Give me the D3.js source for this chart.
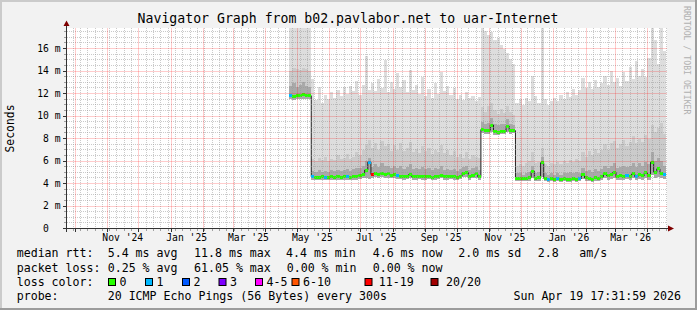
<!DOCTYPE html>
<html>
<head>
<meta charset="utf-8">
<script src="https://cdn.jsdelivr.net/npm/d3@7"></script>
<style>
    body { margin: 0; background: #f2f2f2; }
    svg text { font-family: "DejaVu Sans Mono", monospace; white-space: pre; }
</style>
</head>
<body>
<script>
let width = 697;
let height = 310;

const title = 'Navigator Graph from b02.pavlabor.net to uar-Internet';
const graphEnd = new Date(Date.UTC(2026, 3, 19, 17, 31, 59));
const graphDays = 573;
const firstBin = new Date(Date.UTC(2025, 3, 24));
const binDays = 3;
const yMax = 17.78;
const yTicks = [0, 2, 4, 6, 8, 10, 12, 14, 16];

// median rtt per 3 day bin (ms)
const median = [
    11.8, 11.7, 11.8, 11.8, 11.9, 11.8, 11.8,
    4.6, 4.55, 4.55, 4.6, 4.55, 4.55, 4.6, 4.55, 4.6, 4.55, 4.6, 4.6, 4.55, 4.6, 4.65, 4.7,
    4.8, 5.2, 5.9,
    4.8, 4.85, 4.8, 4.9, 4.8, 4.85, 4.75, 4.8,
    4.7, 4.65, 4.6, 4.65, 4.8, 4.6, 4.6, 4.65, 4.6, 4.6, 4.65, 4.55, 4.6, 4.65, 4.75, 4.6, 4.6, 4.65, 4.6, 4.55, 4.65, 4.9, 5.0, 4.6, 4.75, 4.85, 4.6,
    8.8, 8.7, 8.7, 9.2, 8.6, 8.5, 8.6, 8.6, 9.1, 8.7, 8.7,
    4.45, 4.45, 4.45, 4.45, 4.5, 5.1, 4.45, 4.5, 5.85, 4.45, 4.4, 4.45, 4.4, 4.45, 4.4, 4.45, 4.4, 4.4, 4.45, 4.4, 4.45,
    4.8, 4.5, 4.45, 4.4, 4.5, 4.45, 4.6, 4.9, 4.7, 4.8, 5.0, 4.6, 4.7, 4.6, 4.75, 4.6, 4.85, 4.6, 4.8, 4.7, 4.95, 4.7, 5.9, 5.0, 5.3, 4.9, 4.8
];

// smoke: lowest ping, inner bands and highest ping per bin (ms)
const minPing = [
    11.5, 11.45, 11.5, 11.5, 11.55, 11.5, 11.5,
    4.3, 4.3, 4.3, 4.35, 4.3, 4.3, 4.3, 4.3, 4.35, 4.3, 4.3, 4.35, 4.3, 4.35, 4.35, 4.4,
    4.45, 4.5, 4.4,
    4.5, 4.55, 4.5, 4.55, 4.5, 4.5, 4.45, 4.5,
    4.4, 4.4, 4.35, 4.4, 4.45, 4.35, 4.35, 4.4, 4.35, 4.35, 4.4, 4.3, 4.35, 4.4, 4.45, 4.35, 4.35, 4.4, 4.35, 4.3, 4.4, 4.55, 4.6, 4.35, 4.45, 4.5, 4.35,
    8.5, 8.4, 8.4, 8.6, 8.3, 8.3, 8.4, 8.4, 8.6, 8.4, 8.5,
    4.2, 4.2, 4.2, 4.2, 4.25, 4.5, 4.2, 4.25, 4.6, 4.2, 4.15, 4.2, 4.15, 4.2, 4.15, 4.2, 4.15, 4.15, 4.2, 4.15, 4.2,
    4.4, 4.25, 4.2, 4.15, 4.25, 4.2, 4.3, 4.45, 4.35, 4.4, 4.5, 4.3, 4.35, 4.3, 4.4, 4.3, 4.45, 4.3, 4.4, 4.35, 4.5, 4.35, 4.8, 4.5, 4.6, 4.45, 4.4
];
const lowBand = [
    12.7, 12.9, 12.6, 12.8, 13.0, 12.7, 12.6,
    5.1, 5.0, 5.2, 5.0, 5.1, 5.0, 5.2, 5.1, 5.2, 5.1, 5.2, 5.3, 5.1, 5.3, 5.4, 5.4,
    5.6, 6.0, 6.3,
    5.5, 5.7, 5.5, 5.8, 5.6, 5.6, 5.4, 5.6,
    5.4, 5.6, 5.3, 5.5, 5.7, 5.3, 5.4, 5.3, 5.5, 5.3, 5.4, 5.2, 5.4, 5.3, 5.6, 5.2, 5.3, 5.2, 5.3, 5.1, 5.3, 5.5, 5.6, 5.2, 5.4, 5.5, 5.2,
    9.5, 9.3, 9.4, 9.8, 9.3, 9.2, 9.3, 9.3, 9.7, 9.3, 9.2,
    4.9, 4.9, 4.8, 4.9, 5.0, 5.6, 4.9, 5.0, 6.4, 4.9, 4.8, 4.9, 4.8, 4.9, 4.8, 4.9, 4.9, 5.0, 4.9, 5.0, 4.9,
    5.4, 5.1, 5.2, 5.0, 5.3, 5.1, 5.3, 5.6, 5.4, 5.6, 5.8, 5.4, 5.5, 5.6, 5.5, 5.6, 5.8, 5.5, 5.8, 5.6, 5.9, 5.7, 6.8, 6.0, 6.3, 6.0, 5.6
];
const midBand = [
    14.0, 14.3, 14.2, 14.1, 14.3, 14.2, 14.0,
    6.2, 6.0, 6.3, 6.1, 6.4, 6.0, 6.2, 6.1, 6.5, 6.2, 6.3, 6.6, 6.2, 6.4, 6.8, 6.5,
    7.0, 7.4, 7.9,
    7.2, 7.6, 7.0, 7.8, 7.3, 7.5, 6.9, 7.4,
    7.0, 7.6, 6.9, 7.2, 7.7, 6.8, 7.1, 6.7, 7.3, 6.9, 7.2, 6.6, 7.0, 6.8, 7.4, 6.7, 7.0, 6.5, 6.9, 6.4, 6.6, 6.3, 6.8, 6.2, 6.5, 6.4, 6.3,
    10.8, 10.4, 10.9, 11.2, 10.5, 10.2, 10.6, 10.3, 10.9, 10.4, 10.1,
    5.6, 5.7, 5.6, 5.8, 6.0, 6.8, 5.8, 5.9, 7.2, 5.7, 5.6, 5.8, 5.7, 5.9, 5.7, 6.0, 5.8, 6.1, 5.9, 6.2, 6.0,
    6.8, 6.4, 6.9, 6.5, 7.1, 6.7, 7.0, 7.5, 7.0, 7.6, 7.8, 7.2, 7.5, 7.9, 7.3, 7.7, 8.2, 7.6, 8.0, 7.7, 8.3, 8.0, 9.2, 8.6, 8.9, 9.4, 8.4
];
const maxPing = [
    17.9, 17.9, 17.9, 17.9, 17.9, 17.9, 17.9,
    13.3, 11.4, 12.6, 11.2, 11.9, 11.5, 12.1, 11.6, 12.3, 11.8, 12.6, 12.0, 12.7, 12.2, 13.1, 11.9,
    12.8, 15.3, 12.3,
    12.9, 12.2, 13.3, 12.5, 15.0, 12.1, 13.0, 12.4,
    13.8, 12.6, 13.2, 12.1, 14.1, 12.3, 12.8, 12.0, 13.5, 11.8, 12.4, 11.6, 12.9, 12.0, 13.9, 12.2, 12.7, 11.9, 12.5, 11.5, 11.9, 11.4, 12.1, 11.6, 11.8, 11.3, 11.7,
    17.9, 17.6, 17.2, 17.5, 16.8, 16.9, 16.3, 16.0, 15.6, 15.1, 14.6,
    11.2, 11.5, 11.0, 11.6, 11.3, 13.6, 11.8, 11.2, 17.9, 11.5, 11.0, 11.3, 11.6, 11.3, 11.9, 11.5, 12.1, 11.7, 12.4, 11.9, 12.3,
    13.4, 12.5, 13.0, 12.4, 13.2, 12.6, 12.9, 13.6, 12.8, 14.0, 13.0, 13.4, 12.7, 13.9, 13.1, 14.4, 13.3, 14.9, 13.6, 14.2, 13.5, 15.2, 17.9, 16.8, 14.6, 17.9, 15.8
];

// [bin, lost pings of 20]
const lossEvents = [[0, 1], [7, 1], [11, 1], [18, 1], [25, 1], [26, 12], [34, 1], [82, 1], [85, 1], [92, 1], [107, 1], [110, 1], [119, 1]];

const lossLabels = ['0', '1', '2', '3', '4-5', '6-10', '11-19', '20/20'];
const lossMax = [0, 1, 2, 3, 5, 10, 19, 20];
const lossColors = ['#26ff00', '#00b8ff', '#0059ff', '#7e00ff', '#ff00ff', '#ff5500', '#ff0000', '#a10000'];

const legendRtt = [['median rtt:', 16.7], ['5.4 ms avg', 107.7], ['11.8 ms max', 194], ['4.4 ms min', 286], ['4.6 ms now', 372.7], ['2.0 ms sd', 458.3], ['2.8', 537.7], ['am/s', 579.3]];
const legendLoss = [['packet loss:', 16.7], ['0.25 % avg', 107.7], ['61.05 % max', 194], ['0.00 % min', 286.7], ['0.00 % now', 372.7]];
const legendBoxX = [108, 145, 182, 218.5, 255, 291.5, 364.5, 430.5];
const legendTextX = [119.5, 156.5, 193.5, 230, 266.5, 303, 378.8, 446];
const probeText = '20 ICMP Echo Pings (56 Bytes) every 300s';
const stampText = 'Sun Apr 19 17:31:59 2026';

const graphStart = d3.utcDay.offset(graphEnd, -graphDays);

const svg = d3.select('body')
    .append('svg')
    .attr('width', width)
    .attr('height', height);

let x = d3.scaleUtc().domain([graphStart, graphEnd]).range([67, 667]);
let y = d3.scaleLinear().domain([0, yMax]).range([228.5, 28.5]);

// frame
svg.append('rect').attr('width', width).attr('height', height).attr('fill', '#f2f2f2');
svg.append('path').attr('d', `M0,0H${width}V2H2V${height}H0Z`).attr('fill', '#cbcbcb');
svg.append('path').attr('d', `M${width},${height}H0V${height - 2}H${width - 2}V0H${width}Z`).attr('fill', '#9c9c9c');
svg.append('rect').attr('x', 67).attr('y', 28).attr('width', 600).attr('height', 200).attr('fill', '#ffffff');

svg.append('clipPath').attr('id', 'plot')
    .append('rect').attr('x', 67).attr('y', 28).attr('width', 600).attr('height', 200);

let bins = median.map((m, i) => {
    let loss = lossEvents.find(e => e[0] === i);
    return {
        t0: d3.utcDay.offset(firstBin, i * binDays),
        t1: d3.utcDay.offset(firstBin, (i + 1) * binDays),
        median: m,
        min: minPing[i],
        low: lowBand[i],
        mid: midBand[i],
        max: maxPing[i],
        loss: loss ? loss[1] : 0
    };
});
let steps = bins.map(d => Object.assign({t: d.t0}, d));
steps.push(Object.assign({}, bins[bins.length - 1], {t: bins[bins.length - 1].t1}));

let g = svg.append('g').attr('clip-path', 'url(#plot)');

//Smoke
[['max', '#dddddd'], ['mid', '#cbcbcb'], ['low', '#a9a9a9']].forEach(([key, color]) => {
    g.append('path')
        .datum(steps)
        .attr('fill', color)
        .attr('shape-rendering', 'crispEdges')
        .attr('d', d3.area()
            .curve(d3.curveStepAfter)
            .x(d => x(d.t))
            .y0(d => y(d.min))
            .y1(d => y(d[key])));
});

//Median
g.append('path')
    .datum(steps)
    .attr('fill', 'none')
    .attr('stroke', '#202020')
    .attr('stroke-width', 1)
    .attr('d', d3.line().curve(d3.curveStepAfter).x(d => x(d.t)).y(d => y(d.median)));

g.selectAll('rect.loss')
    .data(bins)
    .enter()
    .append('rect')
    .attr('class', 'loss')
    .attr('shape-rendering', 'crispEdges')
    .attr('x', d => x(d.t0))
    .attr('width', d => x(d.t1) - x(d.t0))
    .attr('y', d => y(d.median) - 1.5)
    .attr('height', 3)
    .attr('fill', d => lossColors[lossMax.findIndex(m => d.loss <= m)]);

//Grid
let minorColor = 'rgba(150,150,150,0.5)';
let majorColor = 'rgba(255,0,0,0.2)';
let grid = svg.append('g').attr('fill', 'none');
grid.selectAll('line.hmin')
    .data(y.ticks(36).filter(v => v > 0 && !yTicks.includes(v)))
    .enter().append('line')
    .attr('class', 'hmin')
    .attr('stroke-dasharray', '1,1')
    .attr('x1', 67).attr('x2', 667)
    .attr('y1', d => Math.floor(y(d)) + 0.5).attr('y2', d => Math.floor(y(d)) + 0.5)
    .attr('stroke', minorColor);
grid.selectAll('line.vmin')
    .data(d3.utcSunday.range(graphStart, graphEnd).filter(d => d.getUTCDate() !== 1))
    .enter().append('line')
    .attr('class', 'vmin')
    .attr('stroke-dasharray', '1,1')
    .attr('x1', d => Math.round(x(d)) + 0.5).attr('x2', d => Math.round(x(d)) + 0.5)
    .attr('y1', 28).attr('y2', 228)
    .attr('stroke', minorColor);
grid.selectAll('line.hmaj')
    .data(yTicks.filter(v => v > 0))
    .enter().append('line')
    .attr('class', 'hmaj')
    .attr('x1', 67).attr('x2', 667)
    .attr('y1', d => Math.floor(y(d)) + 0.5).attr('y2', d => Math.floor(y(d)) + 0.5)
    .attr('stroke', majorColor);
grid.selectAll('line.vmaj')
    .data(d3.utcMonth.range(graphStart, graphEnd))
    .enter().append('line')
    .attr('class', 'vmaj')
    .attr('x1', d => Math.round(x(d)) + 0.5).attr('x2', d => Math.round(x(d)) + 0.5)
    .attr('y1', 28).attr('y2', 228)
    .attr('stroke', majorColor);

//Axes
let axis = svg.append('g').attr('stroke', '#333333').attr('shape-rendering', 'crispEdges');
axis.selectAll('line.ty')
    .data(y.ticks(36).filter(v => v > 0))
    .enter().append('line')
    .attr('class', 'ty')
    .attr('x1', d => yTicks.includes(d) ? 63 : 64).attr('x2', 66)
    .attr('y1', d => Math.floor(y(d)) + 0.5).attr('y2', d => Math.floor(y(d)) + 0.5)
    .attr('stroke', d => yTicks.includes(d) ? '#333333' : '#a0a0a0');
axis.selectAll('line.tx')
    .data(d3.utcSunday.range(graphStart, graphEnd).concat(d3.utcMonth.range(graphStart, graphEnd)))
    .enter().append('line')
    .attr('class', 'tx')
    .attr('x1', d => Math.round(x(d)) + 0.5).attr('x2', d => Math.round(x(d)) + 0.5)
    .attr('y1', 229).attr('y2', d => d.getUTCDate() === 1 ? 232 : 231)
    .attr('stroke', d => d.getUTCDate() === 1 ? '#333333' : '#a0a0a0');
axis.append('line').attr('x1', 63).attr('x2', 669).attr('y1', 228.5).attr('y2', 228.5);
axis.append('line').attr('x1', 66.5).attr('x2', 66.5).attr('y1', 25).attr('y2', 232);
svg.append('path').attr('d', 'M668,225.5L674,228.5L668,231.5Z').attr('fill', '#7f0000');
svg.append('path').attr('d', 'M63.5,26L66.5,20.5L69.5,26Z').attr('fill', '#7f0000');

svg.selectAll('text.ylab')
    .data(yTicks)
    .enter().append('text')
    .attr('class', 'ylab')
    .attr('x', 60.5)
    .attr('y', d => y(d) + 3.4)
    .attr('text-anchor', 'end')
    .attr('font-size', '9.7px')
    .text(d => d === 0 ? '0  ' : d + ' m');

svg.selectAll('text.xlab')
    .data(d3.utcMonth.every(2).range(graphStart, graphEnd))
    .enter().append('text')
    .attr('class', 'xlab')
    .attr('x', d => x(d3.utcDay.offset(d, 15)))
    .attr('y', 240.7)
    .attr('text-anchor', 'middle')
    .attr('font-size', '9.7px')
    .text(d3.utcFormat("%b '%y"));

svg.append('text')
    .attr('x', 348).attr('y', 23)
    .attr('text-anchor', 'middle')
    .attr('font-size', '13.2px')
    .text(title);

svg.append('text')
    .attr('transform', 'translate(14,128.5) rotate(-90)')
    .attr('text-anchor', 'middle')
    .attr('font-size', '11.4px')
    .text('Seconds');

svg.append('text')
    .attr('transform', 'translate(684,6) rotate(90)')
    .attr('font-size', '8.2px')
    .attr('fill', '#b0b0b0')
    .text('RRDTOOL / TOBI OETIKER');

//Legend
let legend = svg.append('g').attr('font-size', '11.6px').attr('fill', '#000');
legendRtt.forEach(([t, lx]) => legend.append('text').attr('x', lx).attr('y', 257.3).text(t));
legendLoss.forEach(([t, lx]) => legend.append('text').attr('x', lx).attr('y', 271.7).text(t));
legend.append('text').attr('x', 16.7).attr('y', 286).text('loss color:');
lossLabels.forEach((t, i) => {
    legend.append('rect')
        .attr('x', legendBoxX[i] + 0.5).attr('y', 278.5)
        .attr('width', 7).attr('height', 7)
        .attr('fill', lossColors[i])
        .attr('stroke', '#000');
    legend.append('text').attr('x', legendTextX[i]).attr('y', 286).text(t);
});
legend.append('text').attr('x', 16.7).attr('y', 300.3).text('probe:');
legend.append('text').attr('x', 107.7).attr('y', 300.3).text(probeText);
legend.append('text').attr('x', 681).attr('y', 300.3).attr('text-anchor', 'end').text(stampText);
</script>
</body>
</html>
